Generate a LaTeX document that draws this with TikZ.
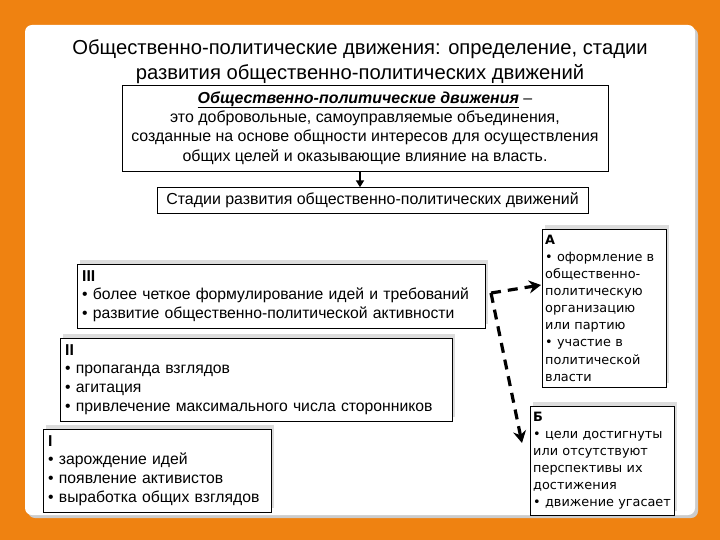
\documentclass[tikz,border=0pt]{standalone}
\usepackage{fontspec}
\setmainfont{Liberation Sans}
\newfontfamily\verdfont{DejaVu Sans}
\usetikzlibrary{arrows.meta,shadows}

\definecolor{bgorange}{HTML}{EF8211}
\definecolor{shadegray}{HTML}{DCDCDC}

\tikzset{
  stagebox/.style={draw, fill=white, anchor=north west, align=left,
    inner xsep=5bp, inner ysep=6bp, font=\fontsize{15.8}{19}\selectfont,
    drop shadow={shadow xshift=3bp, shadow yshift=4bp, fill=shadegray, opacity=1}},
  outbox/.style={stagebox, inner xsep=3bp, inner ysep=5.5bp, font=\verdfont\fontsize{12.9}{17.2}\selectfont},
  dasharrow/.style={line width=3.2bp, dash pattern=on 10bp off 7bp,
    -{Stealth[length=12bp, width=13bp, inset=4bp]}}
}

\begin{document}
\begin{tikzpicture}[x=1bp, y=-1bp]
  \useasboundingbox (0,0) rectangle (720,540);
  \fill[bgorange] (0,0) rectangle (720,540);
  % white sheet
  \fill[black!20, rounded corners=7bp] (28,28) rectangle (698,518);
  \fill[white, rounded corners=7bp] (25,25) rectangle (695,515);

  % heading
  \node[align=center, font=\fontsize{20.3}{25}\selectfont] (title) at (360,62)
    {Общественно-политические движения: определение, стадии\\
     развития общественно-политических движений};

  \node[draw, fill=white, align=center, minimum width=486bp, minimum height=86bp,
        inner sep=2bp, font=\fontsize{16}{19.5}\selectfont] (def) at (365,128)
    {\underline{\textbf{\textit{Общественно-политические движения}}} –\\
     это добровольные, самоуправляемые объединения,\\
     созданные на основе общности интересов для осуществления\\
     общих целей и оказывающие влияние на власть.};

  \node[draw, fill=white, minimum width=431bp, minimum height=26bp, inner sep=2bp,
        font=\fontsize{16}{19}\selectfont] (stages) at (372.5,200.5)
    {Стадии развития общественно-политических движений};
  \coordinate (axis) at (360,0);
  \draw[line width=2bp, -{Triangle[length=7bp, width=8bp]}] (def.south -| axis) -- (stages.north -| axis);

  % stages
  \node[stagebox, text width=398bp] (s3) at (77,264)
    {\textbf{III}\\ • более четкое формулирование идей и требований\\
     • развитие общественно-политической активности};
  \node[stagebox, text width=382bp] (s2) at (60,338)
    {\textbf{II}\\ • пропаганда взглядов\\ • агитация\\
     • привлечение максимального числа сторонников};
  \node[stagebox, text width=218bp] (s1) at (43,429)
    {\textbf{I}\\ • зарождение идей\\ • появление активистов\\
     • выработка общих взглядов};

  % outcomes
  \node[outbox, text width=118bp] (a) at (542,229)
    {\textbf{А}\\ • оформление в\\ общественно-\\ политическую\\ организацию\\
     или партию\\ • участие в\\ политической\\ власти};
  \node[outbox, text width=138bp] (b) at (530,406)
    {\textbf{Б}\\ • цели достигнуты\\ или отсутствуют\\ перспективы их\\
     достижения\\ • движение угасает};

  \coordinate (fork) at (491,293);
  \coordinate (aend) at (541,285);
  \coordinate (bend) at (522,443);
  \draw[dasharrow] (fork) -- (aend);
  \draw[dasharrow] (fork) -- (bend);
\end{tikzpicture}
\end{document}
